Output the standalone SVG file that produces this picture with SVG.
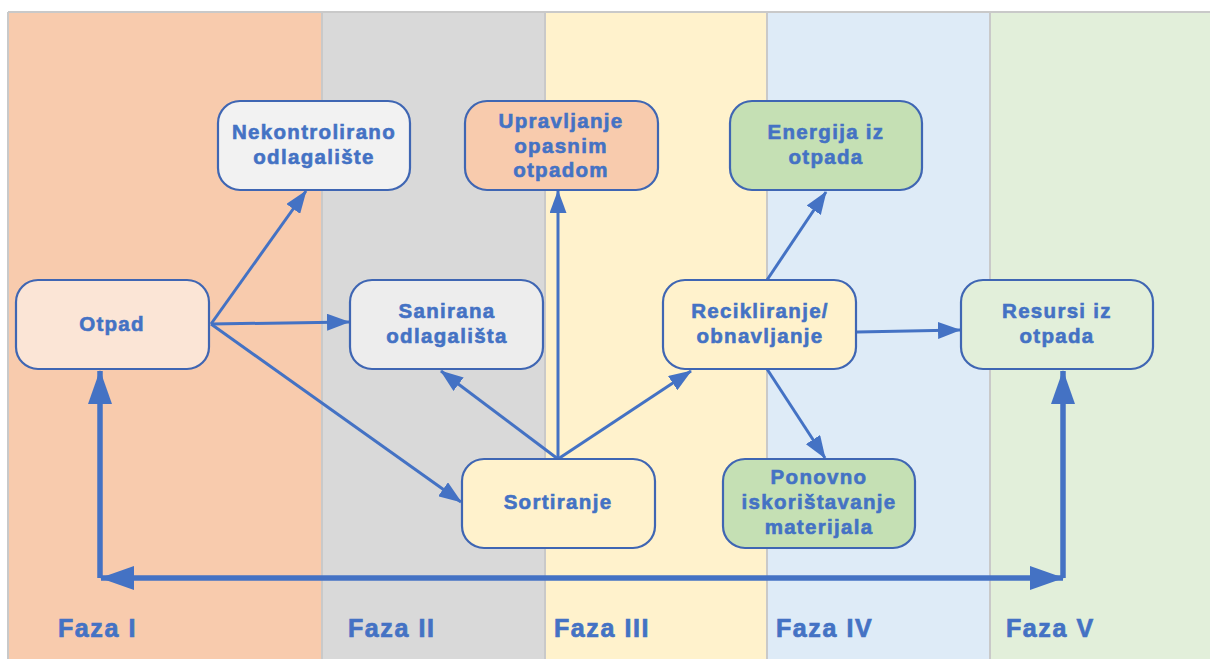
<svg xmlns="http://www.w3.org/2000/svg" width="1210" height="659" viewBox="0 0 1210 659">
<style>
.node rect{stroke:#3F66B3;stroke-width:2.2}
.node text{font-family:"Liberation Sans",Arial,sans-serif;font-weight:bold;font-size:20.5px;letter-spacing:1.3px;fill:#4472C4;stroke:#4472C4;stroke-width:0.6px;text-anchor:middle}
.phase{font-family:"Liberation Sans",Arial,sans-serif;font-weight:bold;font-size:25px;letter-spacing:1.6px;fill:#4472C4;stroke:#4472C4;stroke-width:0.7px}
.conn line{stroke:#4472C4;stroke-width:3;fill:none}
.conn .thick{stroke-width:5.5}
</style>
<defs>
<marker id="a" markerUnits="userSpaceOnUse" markerWidth="23" markerHeight="17" refX="22" refY="8.5" orient="auto">
<path d="M0,0 L23,8.5 L0,17 Z" fill="#4472C4"/>
</marker>
<marker id="b" markerUnits="userSpaceOnUse" markerWidth="34" markerHeight="24" refX="33" refY="12" orient="auto">
<path d="M0,0 L34,12 L0,24 Z" fill="#4472C4"/>
</marker>
</defs>
<g id="background">
<rect x="8" y="12" width="1202" height="647" fill="#FFFFFF"/>
<rect x="8" y="12" width="314" height="647" fill="#F8CBAD"/>
<rect x="322" y="12" width="223" height="647" fill="#D9D9D9"/>
<rect x="545" y="12" width="222" height="647" fill="#FFF2CC"/>
<rect x="767" y="12" width="223" height="647" fill="#DEEBF7"/>
<rect x="990" y="12" width="220" height="647" fill="#E2EFDA"/>
<g stroke="#C9C9C9" stroke-width="2">
<line x1="8" y1="12" x2="1210" y2="12"/>
<line x1="8" y1="12" x2="8" y2="659"/>
<line x1="322" y1="12" x2="322" y2="659"/>
<line x1="545" y1="12" x2="545" y2="659"/>
<line x1="767" y1="12" x2="767" y2="659"/>
<line x1="990" y1="12" x2="990" y2="659"/>
</g>
</g>
<g id="phases">
<text class="phase" x="58" y="637">Faza I</text>
<text class="phase" x="348" y="637">Faza II</text>
<text class="phase" x="554" y="637">Faza III</text>
<text class="phase" x="776" y="637">Faza IV</text>
<text class="phase" x="1006" y="637">Faza V</text>
</g>
<g id="connectors" class="conn">
<line x1="211" y1="324" x2="306" y2="191" marker-end="url(#a)"/>
<line x1="211" y1="324" x2="349" y2="322" marker-end="url(#a)"/>
<line x1="211" y1="324" x2="461" y2="502" marker-end="url(#a)"/>
<line x1="558" y1="459" x2="558" y2="191" marker-end="url(#a)"/>
<line x1="558" y1="459" x2="441" y2="371" marker-end="url(#a)"/>
<line x1="558" y1="459" x2="691" y2="371" marker-end="url(#a)"/>
<line x1="767" y1="280" x2="826" y2="192" marker-end="url(#a)"/>
<line x1="857" y1="332" x2="960" y2="330" marker-end="url(#a)"/>
<line x1="767" y1="369" x2="825" y2="458" marker-end="url(#a)"/>
<line class="thick" x1="100" y1="578" x2="100" y2="371" marker-end="url(#b)"/>
<line class="thick" x1="1063" y1="578" x2="1063" y2="371" marker-end="url(#b)"/>
<line class="thick" x1="580" y1="578" x2="101" y2="578" marker-end="url(#b)"/>
<line class="thick" x1="580" y1="578" x2="1063" y2="578" marker-end="url(#b)"/>
</g>
<g id="otpad" class="node">
<rect x="16" y="280" width="193" height="89" rx="22" fill="#FBE5D6"/>
<text x="112" y="331">Otpad</text>
</g>
<g id="nekontrolirano" class="node">
<rect x="218" y="101" width="192" height="89" rx="22" fill="#F2F2F2"/>
<text x="314" y="139">Nekontrolirano</text>
<text x="314" y="164">odlagalište</text>
</g>
<g id="sanirana" class="node">
<rect x="350" y="280" width="193" height="89" rx="22" fill="#EDEDED"/>
<text x="447" y="318">Sanirana</text>
<text x="447" y="343">odlagališta</text>
</g>
<g id="upravljanje" class="node">
<rect x="465" y="101" width="193" height="89" rx="22" fill="#F8CBAD"/>
<text x="561" y="128">Upravljanje</text>
<text x="561" y="153">opasnim</text>
<text x="561" y="177">otpadom</text>
</g>
<g id="energija" class="node">
<rect x="730" y="101" width="192" height="89" rx="22" fill="#C5E0B4"/>
<text x="826" y="139">Energija iz</text>
<text x="826" y="164">otpada</text>
</g>
<g id="recikliranje" class="node">
<rect x="663" y="280" width="193" height="89" rx="22" fill="#FFF2CC"/>
<text x="760" y="318">Recikliranje/</text>
<text x="760" y="343">obnavljanje</text>
</g>
<g id="resursi" class="node">
<rect x="961" y="280" width="192" height="89" rx="22" fill="#E2EFDA"/>
<text x="1057" y="318">Resursi iz</text>
<text x="1057" y="343">otpada</text>
</g>
<g id="sortiranje" class="node">
<rect x="462" y="459" width="193" height="89" rx="22" fill="#FFF2CC"/>
<text x="558" y="509">Sortiranje</text>
</g>
<g id="ponovno" class="node">
<rect x="723" y="459" width="192" height="89" rx="22" fill="#C5E0B4"/>
<text x="819" y="484">Ponovno</text>
<text x="819" y="509">iskorištavanje</text>
<text x="819" y="534">materijala</text>
</g>
</svg>
